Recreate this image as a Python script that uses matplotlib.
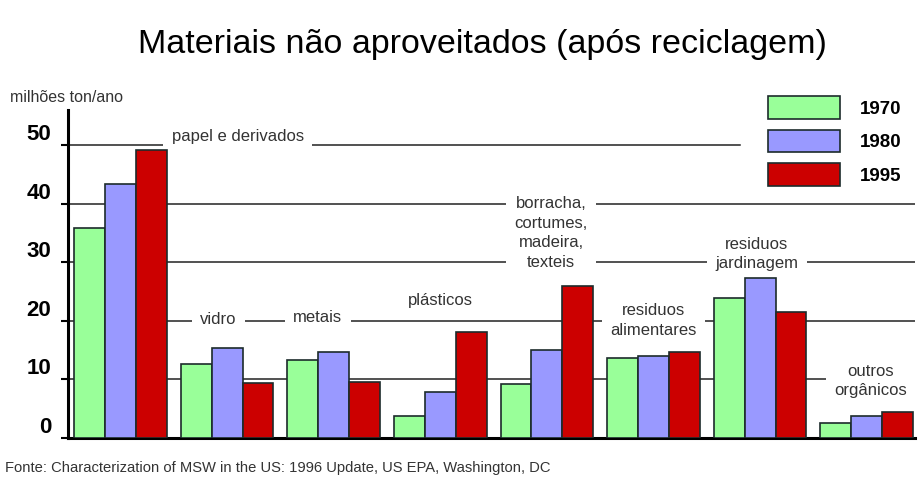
import matplotlib.pyplot as plt
import numpy as np

plt.rcParams['font.family'] = ['Liberation Sans', 'DejaVu Sans']

# milhões de toneladas por ano, por categoria de material
categorias = ["papel e derivados", "vidro", "metais", "plásticos",
              "borracha,\ncortumes,\nmadeira,\ntexteis",
              "residuos\nalimentares", "residuos\njardinagem",
              "outros\norgânicos"]
anos = ["1970", "1980", "1995"]
v1970 = [35.8, 12.6, 13.3, 3.8, 9.2, 13.6, 23.9, 2.6]
v1980 = [43.3, 15.4, 14.7, 7.9, 15.0, 14.0, 27.3, 3.8]
v1995 = [49.1, 9.4, 9.6, 18.1, 25.9, 14.7, 21.5, 4.4]
yticks = [0, 10, 20, 30, 40, 50]

cores = ['#99ff99', '#9999ff', '#cc0000']

# onde cada rótulo de categoria fica (x, y, alinhamento)
pos_rotulos = [(0.48, 51.4, 'left'), (0.92, 20.3, 'center'), (1.85, 20.5, 'center'),
               (3.0, 23.5, 'center'), (4.04, 35.0, 'center'), (5.0, 20.1, 'center'),
               (5.97, 31.4, 'center'), (7.04, 9.7, 'center')]

fig = plt.figure(figsize=(9.19, 4.83), dpi=100)
ax = fig.add_axes([68 / 919, 1 - 438 / 483, (915 - 68) / 919, (438 - 110) / 483])

x = np.arange(len(categorias))
w = 0.29
for i, (serie, ano) in enumerate(zip([v1970, v1980, v1995], anos)):
    ax.bar(x + (i - 1) * w, serie, w, color=cores[i], edgecolor='#1c2b2b',
           linewidth=1.2, label=ano, zorder=3)

# linhas horizontais de referência
for y in yticks[1:]:
    fim = 0.793 if y == 50 else 1.0
    ax.axhline(y, xmax=fim, color='#222222', linewidth=1.1, zorder=1)

for nome, (px, py, ha) in zip(categorias, pos_rotulos):
    ax.text(px, py, nome, ha=ha, va='center', fontsize=12, color='#333333',
            linespacing=1.38, zorder=2,
            bbox=dict(facecolor='white', edgecolor='none', pad=6))

ax.set_xlim(-0.4925, 7.453)
ax.set_ylim(0, 56)
ax.set_xticks([])
ax.set_yticks(yticks)
ax.set_yticklabels([str(t) for t in yticks], fontsize=16, fontweight='bold',
                   va='bottom')
ax.tick_params(axis='y', direction='out', length=5, width=1.5, pad=7)
for s in ['top', 'right']:
    ax.spines[s].set_visible(False)
for s in ['left', 'bottom']:
    ax.spines[s].set_linewidth(2.2)

fig.text(10 / 919, 1 - 97 / 483, "milhões ton/ano", fontsize=11.5, va='center',
         color='#333333')
fig.text(482 / 919, 1 - 45 / 483, "Materiais não aproveitados (após reciclagem)",
         fontsize=24.5, ha='center', va='center')
fig.text(5 / 919, 1 - 468 / 483,
         "Fonte: Characterization of MSW in the US: 1996 Update, US EPA, Washington, DC",
         fontsize=10.6, va='center', color='#333333')

leg = ax.legend(loc='upper left', bbox_to_anchor=(768 / 919, 1 - 96 / 483),
                bbox_transform=fig.transFigure, frameon=False, borderpad=0,
                borderaxespad=0, handlelength=3.85, handleheight=1.5,
                labelspacing=0.57, handletextpad=1.03,
                prop={'weight': 'bold', 'size': 13.5})

fig.savefig('out.png', dpi=100)
